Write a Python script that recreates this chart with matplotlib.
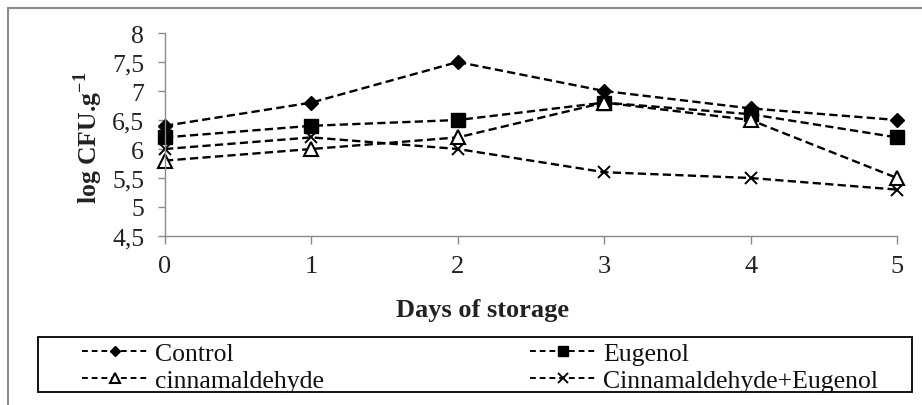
import matplotlib
matplotlib.use("Agg")
import matplotlib.pyplot as plt
from matplotlib.patches import Rectangle

plt.rcParams['font.family'] = ['Liberation Serif', 'DejaVu Serif']
plt.rcParams['mathtext.fontset'] = 'custom'
plt.rcParams['mathtext.rm'] = 'Liberation Serif'
plt.rcParams['mathtext.bf'] = 'Liberation Serif:bold'

days = [0, 1, 2, 3, 4, 5]
control = [6.4, 6.8, 7.5, 7.0, 6.7, 6.5]
eugenol = [6.2, 6.4, 6.5, 6.8, 6.6, 6.2]
cinnamaldehyde = [5.8, 6.0, 6.2, 6.8, 6.5, 5.5]
cinn_eug = [6.0, 6.2, 6.0, 5.6, 5.5, 5.3]
yticks = [4.5, 5, 5.5, 6, 6.5, 7, 7.5, 8]
ytick_labels = ['4,5', '5', '5,5', '6', '6,5', '7', '7,5', '8']

W, H = 922, 406
fig = plt.figure(figsize=(W / 100, H / 100), dpi=100)

def fx(px):
    return px / W

def fy(py):
    return 1 - py / H

ax = fig.add_axes([fx(165), fy(237), (897 - 165) / W, (237 - 34) / H])

ls = dict(color='black', lw=1.7, dashes=(3.5, 1.8))
l1, = ax.plot(days, control, marker='D', ms=7, mfc='black', mec='black', label='Control', **ls)
l2, = ax.plot(days, eugenol, marker='s', ms=9.5, mfc='black', mec='black', label='Eugenol', **ls)
l3, = ax.plot(days, cinnamaldehyde, marker='^', ms=9.5, mfc='white', mec='black', mew=1.5,
              label='cinnamaldehyde', **ls)
l4, = ax.plot(days, cinn_eug, marker='x', ms=9, mec='black', mew=1.4,
              label='Cinnamaldehyde+Eugenol', **ls)

ax.set_xlim(0, 5)
ax.set_ylim(4.5, 8)
ax.set_xticks(days)
ax.set_yticks(yticks)
ax.set_yticklabels(ytick_labels)
for s in ['top', 'right']:
    ax.spines[s].set_visible(False)
for s in ['left', 'bottom']:
    ax.spines[s].set_color('#8a8a8a')
    ax.spines[s].set_linewidth(1.0)
ax.tick_params(axis='y', direction='out', length=5, width=1, color='#8a8a8a',
               pad=10, labelsize=18.5, labelcolor='#222222')
ax.tick_params(axis='x', direction='out', length=6, width=1, color='#8a8a8a',
               pad=8, labelsize=19, labelcolor='#222222')
for l in ax.get_lines():
    l.set_clip_on(False)

fig.text(fx(88), fy(138), r'log CFU.g$^{\mathbf{-1}}$', rotation=90, ha='center',
         va='center', fontsize=18.5, fontweight='bold', color='#222222')
fig.text(fx(482), fy(311), 'Days of storage', ha='center', va='center',
         fontsize=19, fontweight='bold', color='#222222')

# outer chart border (open at right and bottom)
fig.patches.append(Rectangle((fx(8), fy(420)), fx(940) - fx(8), (420 - 9) / H,
                             transform=fig.transFigure, fill=False,
                             edgecolor='#8c8c8c', lw=1.5))
# legend box
fig.patches.append(Rectangle((fx(38), fy(393)), fx(912) - fx(38), (393 - 338) / H,
                             transform=fig.transFigure, fill=False,
                             edgecolor='black', lw=1.3))

handles = [l1, l3, l2, l4]
labels = [h.get_label() for h in handles]
leg = fig.legend(handles, labels, ncol=2, mode='expand', frameon=False,
                 bbox_to_anchor=(fx(82), fy(395), fx(878) - fx(82), (395 - 341) / H),
                 loc='center', borderpad=0, borderaxespad=0, handlelength=2.6,
                 handletextpad=0.25, labelspacing=0.15, fontsize=18.5, numpoints=1,
                 markerscale=0.75)
for t in leg.get_texts():
    t.set_color('#111111')
for ln in leg.get_lines():
    ln.set_dashes((3, 2))
    ln.set_linewidth(1.4)

fig.savefig('out.png', dpi=100)
